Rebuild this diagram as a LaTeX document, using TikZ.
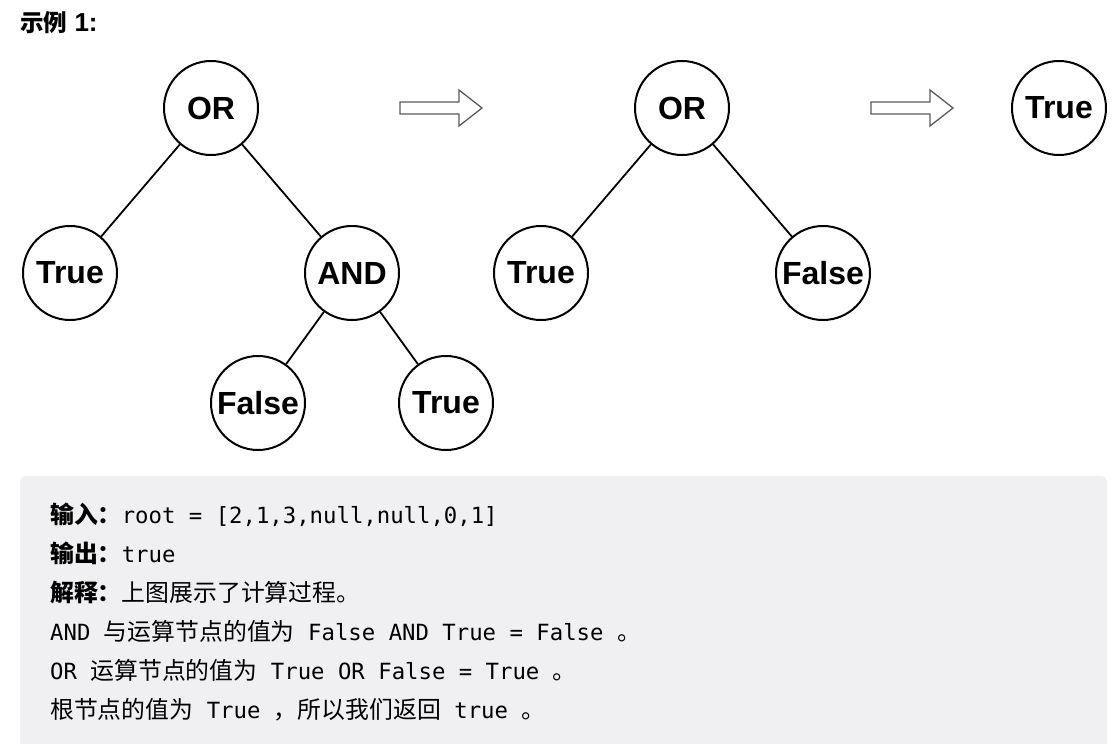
\documentclass[tikz,border=0pt]{standalone}
\usepackage{fontspec}
\usepackage{tikz}
\setmainfont{Liberation Sans}
\setmonofont{DejaVu Sans Mono}
\newfontfamily\cjk[Scale=1.07]{Noto Sans CJK SC}
\definecolor{boxgray}{RGB}{240,240,242}
\definecolor{arrowgray}{RGB}{90,90,90}

\begin{document}
\begin{tikzpicture}[x=1pt,y=-1pt,
  tnode/.style={draw,circle,line width=2pt,minimum size=94pt,inner sep=0pt,font=\fontsize{32}{34}\selectfont\bfseries},
  edge/.style={line width=1.8pt},
  txt/.style={anchor=base west,inner sep=0pt,font=\fontsize{22.3}{24}\selectfont\ttfamily}]
\useasboundingbox (0,0) rectangle (1112,744);

\node[anchor=base west,inner sep=0pt,font=\fontsize{26}{28}\selectfont\bfseries] (title) at (20,31) {{\cjk\fontsize{22}{24}\selectfont\bfseries 示例} 1:};

% first tree
\node[tnode] (or1) at (211,108) {OR};
\node[tnode] (t1) at (70,273) {True};
\node[tnode] (and) at (352,273) {AND};
\node[tnode] (f1) at (258,403) {False};
\node[tnode] (t2) at (446,403) {True};
\draw[edge] (or1) -- (t1);
\draw[edge] (or1) -- (and);
\draw[edge] (and) -- (f1);
\draw[edge] (and) -- (t2);

% second tree
\node[tnode] (or2) at (682,108) {OR};
\node[tnode] (t3) at (541,273) {True};
\node[tnode] (f2) at (823,273) {False};
\draw[edge] (or2) -- (t3);
\draw[edge] (or2) -- (f2);

% result
\node[tnode] (t4) at (1059,108) {True};

\foreach \dx in {0,471}{
  \draw[arrowgray,line width=1.3pt,line join=miter] (400+\dx,102) -- (459+\dx,102) -- (459+\dx,90)
    -- (482+\dx,108) -- (459+\dx,126) -- (459+\dx,114) -- (400+\dx,114) -- cycle;
}

% explanation box
\fill[boxgray,rounded corners=6pt] (20,476) rectangle (1107,760);
\node[txt] (l1) at (50,523) {{\cjk\bfseries 输入：}root = [2,1,3,null,null,0,1]};
\node[txt] (l2) at (50,562) {{\cjk\bfseries 输出：}true};
\node[txt] (l3) at (50,601) {{\cjk\bfseries 解释：}{\cjk 上图展示了计算过程。}};
\node[txt] (l4) at (50,640) {AND {\cjk 与运算节点的值为} False AND True = False {\cjk 。}};
\node[txt] (l5) at (50,679) {OR {\cjk 运算节点的值为} True OR False = True {\cjk 。}};
\node[txt] (l6) at (50,718) {{\cjk 根节点的值为} True {\cjk ，所以我们返回} true {\cjk 。}};
\end{tikzpicture}
\end{document}
